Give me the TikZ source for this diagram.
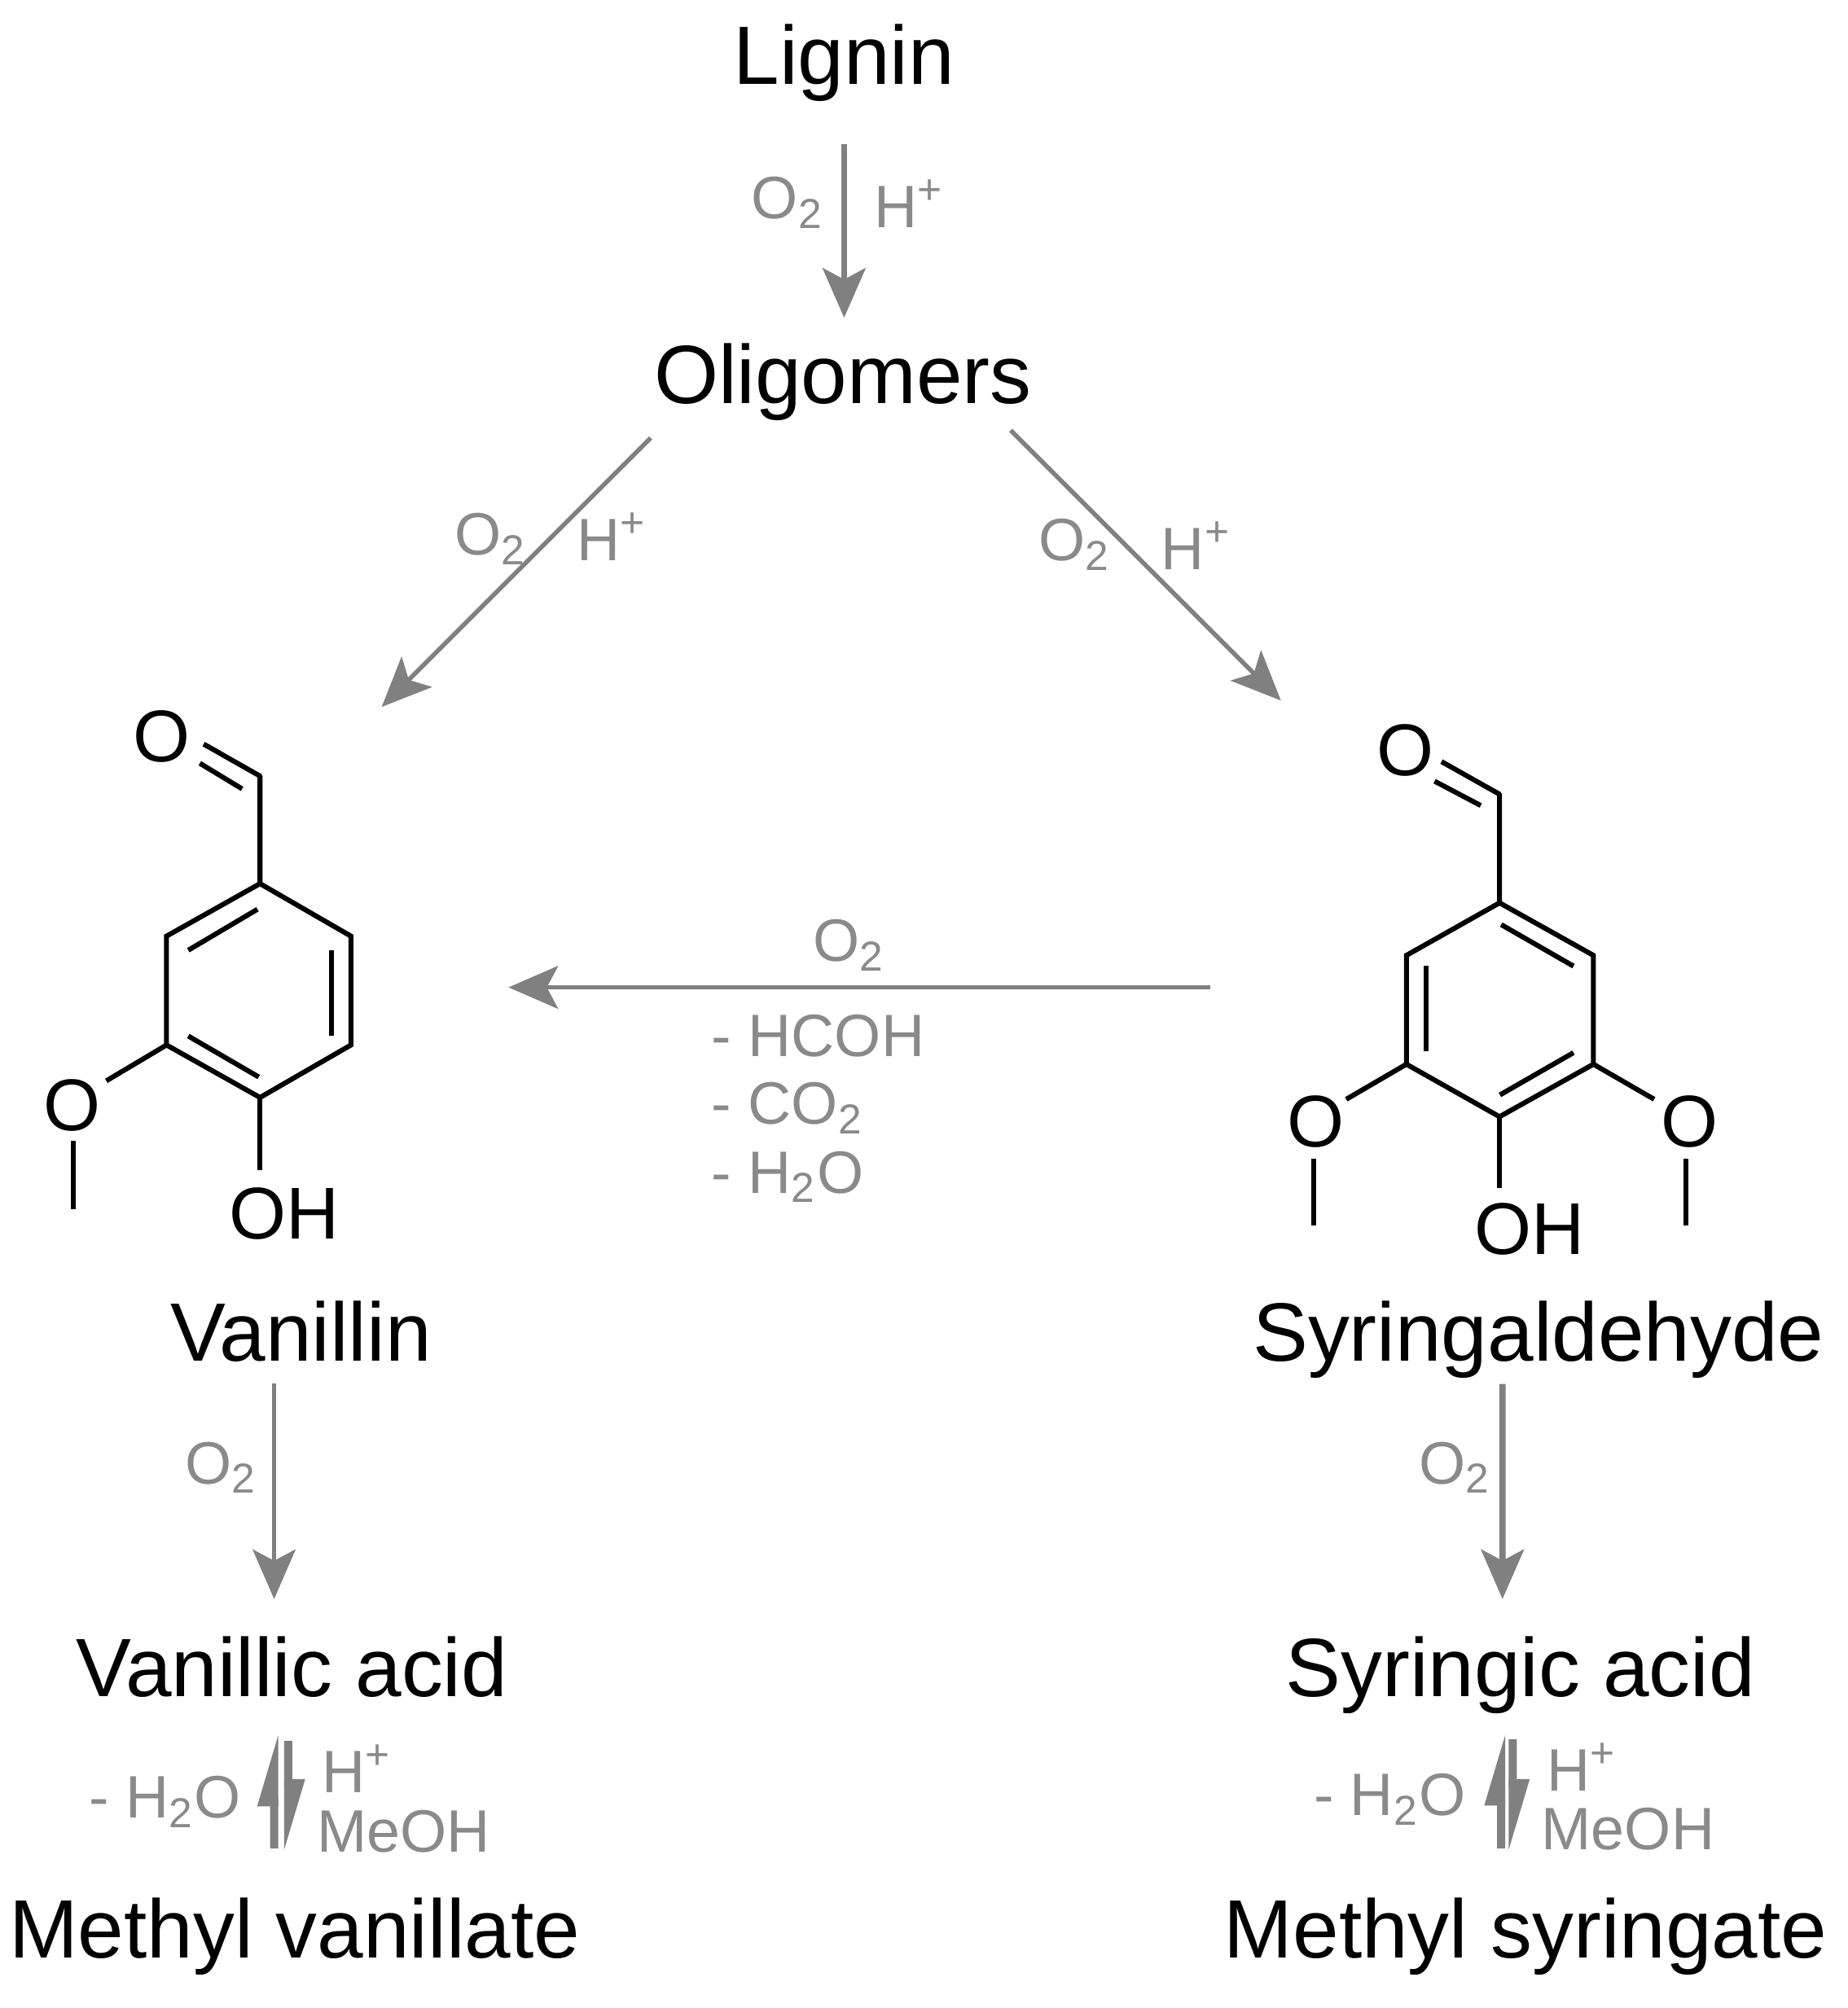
\documentclass[tikz,border=0pt]{standalone}
\usepackage{fontspec}
\setmainfont{Liberation Sans}
\usetikzlibrary{arrows.meta, positioning}
\definecolor{rxngray}{HTML}{808080}
\definecolor{labelgray}{HTML}{8A8A8A}
\tikzset{
    chemname/.style = {anchor = base, inner sep = 0pt, font = \fontsize{18.4}{20}\selectfont},
    reagent/.style = {inner sep = 0pt, text = labelgray, font = \fontsize{13.3}{15}\selectfont},
    atom/.style = {inner sep = 0pt, font = \fontsize{16.3}{18}\selectfont},
    bond/.style = {line width = 1.1pt},
    rxn/.style = {color = rxngray, line width = 1pt, -{Stealth[length = 11pt, width = 9.5pt, inset = 2.5pt]}},
    rxnthick/.style = {rxn, line width = 1.4pt},
    eqarrow/.style = {color = rxngray, line width = 1.8pt, -{Stealth[harpoon, length = 13pt, width = 7pt, inset = 0pt]}}
}
\def\Otwo{O\textsubscript{2}}
\def\Hplus{H\textsuperscript{+}}
\def\Hwater{- H\textsubscript{2}O}
\begin{document}
\begin{tikzpicture}[x = 0.1mm, y = -0.1mm]
    \useasboundingbox (0,0) rectangle (1442.7,1568);
    % Nomi dei composti
    \node[chemname] (lignin) at (659,66){Lignin};
    \node[chemname] (oligomers) at (658,315){Oligomers};
    \node[chemname] (vanillin) at (235,1063){Vanillin};
    \node[chemname] (syringaldehyde) at (1201,1063){Syringaldehyde};
    \node[chemname] (vanillicacid) at (228,1325){Vanillic acid};
    \node[chemname] (syringicacid) at (1187,1325){Syringic acid};
    \node[chemname] (methylvanillate) at (230,1529){Methyl vanillate};
    \node[chemname] (methylsyringate) at (1191,1529){Methyl syringate};
    % Estremi delle frecce verso le molecole
    \coordinate (oligleft) at (508,342);
    \coordinate (oligright) at (789,336);
    \coordinate (vanend) at (298,552);
    \coordinate (synend) at (1000,547);
    \coordinate (synhoriz) at (945,771);
    \coordinate (vanhoriz) at (397,771);
    % Frecce
    \draw[rxnthick, shorten < = 9.2pt, shorten > = 5.5pt] (lignin.south) -- (lignin.south |- oligomers.north);
    \draw[rxn] (oligleft) -- (vanend);
    \draw[rxn] (oligright) -- (synend);
    \draw[rxn] (synhoriz) -- (vanhoriz);
    \draw[rxn, shorten < = 4.6pt, shorten > = 8.2pt] ([xshift = -2.1mm]vanillin.south) -- ([xshift = -1.4mm]vanillicacid.north);
    \draw[rxnthick, shorten < = 1pt, shorten > = 8.2pt] ([xshift = -2.8mm]syringaldehyde.south) -- ([xshift = -1.4mm]syringicacid.north);
    % Equilibri
    \draw[eqarrow, shorten < = 10.8pt, shorten > = 7.6pt] ([xshift = -1.6mm]methylvanillate.north) -- ([xshift = -1.4mm]vanillicacid.south);
    \draw[eqarrow, shorten < = 9.4pt, shorten > = 9.9pt] ([xshift = -0.3mm]vanillicacid.south) -- ([xshift = -0.5mm]methylvanillate.north);
    \draw[eqarrow, shorten < = 10.8pt, shorten > = 3.8pt] ([xshift = -1.9mm]methylsyringate.north) -- ([xshift = -1.5mm]syringicacid.south);
    \draw[eqarrow, shorten < = 5.4pt, shorten > = 9.9pt] ([xshift = -0.6mm]syringicacid.south) -- ([xshift = -1.0mm]methylsyringate.north);
    % Reagenti
    \node[reagent] (ligO) at (615,158){\Otwo};
    \node[reagent] (ligH) at (710,159){\Hplus};
    \node[reagent] (leftO) at (383,421){\Otwo};
    \node[reagent] (leftH) at (478,419){\Hplus};
    \node[reagent] (rightO) at (839,425){\Otwo};
    \node[reagent] (rightH) at (934,426){\Hplus};
    \node[reagent] (midO) at (663,738){\Otwo};
    \node[reagent, anchor = west] (midform) at (555,809){- HCOH};
    \node[reagent, anchor = west] (midco) at (555,865){- CO\textsubscript{2}};
    \node[reagent, anchor = west] (midwater) at (555,919){\Hwater};
    \node[reagent] (vanO) at (173,1146){\Otwo};
    \node[reagent] (synO) at (1136,1146){\Otwo};
    \node[reagent, anchor = west] (vanwater) at (69,1407){\Hwater};
    \node[reagent] (vanH) at (279,1381){\Hplus};
    \node[reagent] (vanMeOH) at (315,1430){MeOH};
    \node[reagent, anchor = west] (synwater) at (1025,1405){\Hwater};
    \node[reagent] (synH) at (1235,1380){\Hplus};
    \node[reagent] (synMeOH) at (1271,1428){MeOH};
    % Molecola di vanillina
    \node[atom] (vanald) at (126,575){O};
    \node[atom] (vanmeth) at (56,863){O};
    \node[atom] (vanoh) at (222,948){OH};
    \draw[bond] (130,731) -- (203,690) -- (274,731) -- (274,816) -- (203,857) -- (130,816) -- cycle;
    \draw[bond] (147,742) -- (201,710);
    \draw[bond] (259,742) -- (259,809);
    \draw[bond] (147,809) -- (202,841);
    \draw[bond, line join = round] (159,581) -- (203,606) -- (203,690);
    \draw[bond] (156,596) -- (189,616);
    \draw[bond] (130,816) -- (83,844);
    \draw[bond] (57,891) -- (57,944);
    \draw[bond] (203,857) -- (203,914);
    % Molecola di siringaldeide
    \node[atom] (synald) at (1097,586){O};
    \node[atom] (synmethl) at (1027,876){O};
    \node[atom] (synmethr) at (1319,876){O};
    \node[atom] (synoh) at (1194,960){OH};
    \draw[bond] (1098,746) -- (1170.7,705) -- (1244,746) -- (1244,831) -- (1170.7,872) -- (1098,831) -- cycle;
    \draw[bond] (1172,722) -- (1228.4,754.4);
    \draw[bond] (1113.6,754) -- (1113.6,821);
    \draw[bond] (1171,855) -- (1228.4,822);
    \draw[bond, line join = round] (1125.4,594.7) -- (1170.7,620.2) -- (1170.7,705);
    \draw[bond] (1120,610) -- (1156,629);
    \draw[bond] (1098,831) -- (1051,858.4);
    \draw[bond] (1244,831) -- (1291.4,858.4);
    \draw[bond] (1025.6,904.6) -- (1025.6,957);
    \draw[bond] (1316.3,904.6) -- (1316.3,957);
    \draw[bond] (1170.7,872) -- (1170.7,927.5);
\end{tikzpicture}
\end{document}
